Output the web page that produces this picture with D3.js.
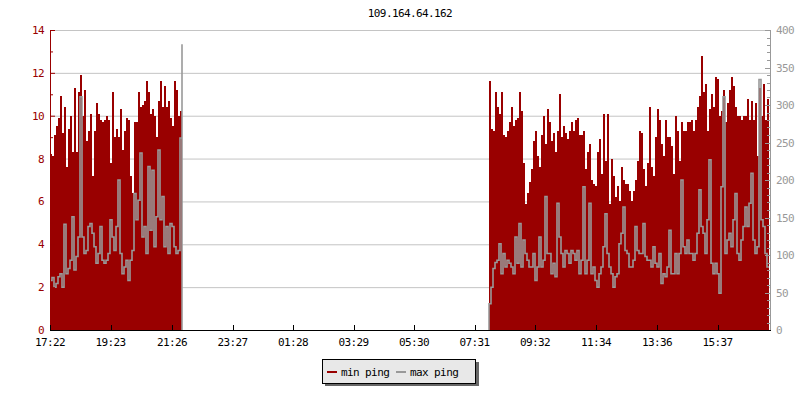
<!DOCTYPE html>
<html>
<head>
<meta charset="utf-8">
<script src="https://cdn.jsdelivr.net/npm/d3@7"></script>
<style>
  html, body { margin: 0; padding: 0; background: #fff; }
  svg { display: block; }
  text { font-family: "DejaVu Sans Mono", monospace; font-size: 11px; letter-spacing: -0.6px; }
</style>
</head>
<body>
<svg id="chart" width="800" height="400"></svg>
<script>
// ---------------- data ----------------
const title = "109.164.64.162";
const axisStart = "17:22";            // left edge of the time axis (24 h span)
const stepMinutes = 4;                // sample interval
const xTickLabels = ["17:22","19:23","21:26","23:27","01:28","03:29","05:30","07:31","09:32","11:34","13:36","15:37"];
const leftTicks = [0, 2, 4, 6, 8, 10, 12, 14];
const rightTicks = [0, 50, 100, 150, 200, 250, 300, 350, 400];
const seriesNames = ["min ping", "max ping"];

// segment 1 (evening)
const seg1Start = "17:22";
const seg1Min = [8.2, 8.1, 9.1, 9.5, 9.9, 10.9, 9.2, 10.4, 7.6, 9.4,
  10.0, 8.3, 11.3, 8.3, 11.1, 11.9, 10.0, 11.2, 8.8, 9.3,
  10.1, 7.2, 9.3, 10.6, 10.1, 9.8, 9.7, 9.8, 10.0, 9.8,
  7.8, 11.1, 9.0, 9.4, 9.0, 10.3, 8.4, 9.3, 9.9, 9.8,
  7.2, 6.4, 9.7, 9.7, 11.1, 10.4, 10.5, 10.7, 11.6, 11.1,
  10.1, 10.3, 10.0, 9.0, 10.7, 11.6, 10.4, 11.4, 10.4, 10.7,
  9.9, 9.5, 11.6, 11.2, 10.0, 10.2];
const seg1Max = [66, 70, 57, 62, 71, 75, 57, 141, 75, 82,
  93, 151, 80, 98, 124, 311, 124, 102, 106, 138,
  142, 129, 111, 89, 102, 138, 93, 89, 93, 102,
  147, 124, 106, 138, 200, 102, 75, 84, 93, 66,
  93, 106, 182, 147, 173, 236, 124, 138, 102, 218,
  133, 213, 111, 151, 240, 147, 178, 111, 138, 102,
  142, 138, 111, 102, 106, 256, 381];

// segment 2 (morning / afternoon)
const seg2Start = "08:00";
const seg2Min = [11.6, 9.4, 9.3, 11.1, 10.4, 10.1, 11.1, 9.1, 9.0, 9.3,
  9.7, 10.4, 9.5, 9.8, 9.9, 11.1, 10.2, 7.8, 5.9, 6.4,
  6.9, 7.5, 8.8, 9.3, 8.1, 7.6, 9.1, 10.0, 8.7, 10.3,
  9.7, 8.8, 9.2, 8.3, 9.3, 11.0, 9.0, 9.5, 9.2, 8.9,
  9.3, 9.7, 9.3, 9.8, 9.9, 9.1, 9.1, 9.3, 7.5, 8.3,
  8.7, 7.0, 6.8, 6.7, 8.3, 8.9, 7.3, 10.1, 7.9, 10.1,
  5.9, 8.0, 7.2, 6.2, 6.7, 6.0, 7.6, 7.0, 6.8, 6.8,
  6.5, 6.0, 6.5, 7.0, 7.9, 9.3, 9.2, 7.5, 6.7, 7.8,
  10.4, 7.6, 7.2, 9.0, 10.3, 9.8, 8.7, 8.1, 9.8, 9.0,
  9.0, 8.6, 7.3, 10.0, 9.3, 7.9, 9.7, 9.3, 9.3, 9.7,
  9.7, 9.8, 9.3, 9.8, 10.4, 10.9, 12.8, 11.1, 11.5, 9.3,
  10.3, 11.0, 10.4, 11.8, 11.7, 10.0, 10.2, 11.2, 9.7, 10.6,
  11.2, 11.8, 11.4, 10.4, 10.0, 10.0, 9.8, 10.0, 10.0, 10.8,
  9.8, 10.7, 9.8, 10.6, 8.1, 11.3, 10.0, 11.5, 9.8, 10.8];
const seg2Max = [35, 57, 82, 90, 93, 115, 75, 102, 84, 93,
  89, 84, 75, 124, 89, 142, 84, 120, 102, 93,
  84, 84, 102, 66, 84, 124, 84, 93, 178, 102,
  102, 75, 89, 71, 169, 124, 102, 84, 106, 102,
  89, 106, 102, 93, 106, 75, 93, 191, 75, 93,
  169, 75, 84, 66, 57, 75, 84, 111, 155, 102,
  84, 75, 57, 71, 75, 115, 129, 164, 106, 102,
  84, 84, 93, 138, 106, 102, 102, 142, 98, 93,
  93, 84, 111, 89, 84, 102, 62, 75, 71, 84,
  133, 75, 75, 102, 75, 102, 200, 111, 102, 120,
  102, 102, 93, 102, 129, 187, 138, 129, 102, 147,
  227, 89, 75, 89, 75, 49, 191, 311, 102, 120,
  129, 111, 147, 182, 102, 93, 120, 138, 164, 138,
  169, 209, 120, 102, 111, 334, 147, 138, 102, 84];

// ---------------- helpers ----------------
const toMin = s => { const [h, m] = s.split(":").map(Number); return h * 60 + m; };
const offset = s => ((toMin(s) - toMin(axisStart)) % 1440 + 1440) % 1440;

// ---------------- layout ----------------
const L = 50, R = 770, T = 30, B = 330;
const RED = "#990000", GREY = "#999999";
const svg = d3.select("#chart");

const x = d3.scaleLinear().domain([0, 1440]).range([L, R]);
const yL = d3.scaleLinear().domain([0, 14]).range([B, T]);
const yR = d3.scaleLinear().domain([0, 400]).range([B, T]);

// grid
svg.append("g").selectAll("line").data(leftTicks.filter(d => d > 0)).join("line")
  .attr("x1", L).attr("x2", R)
  .attr("y1", d => yL(d) + 0.5).attr("y2", d => yL(d) + 0.5)
  .attr("stroke", "#c4c4c4").attr("stroke-width", 1);

// series
function drawSegment(startStr, mins, maxs, dropStart, dropEnd) {
  const t0 = offset(startStr);
  const n = mins.length;
  const tEnd = t0 + n * stepMinutes;
  const minPts = mins.map((v, i) => [t0 + i * stepMinutes, v]);
  minPts.push([tEnd, mins[n - 1]]);
  const area = d3.area().curve(d3.curveStepAfter)
    .x(d => x(d[0])).y0(yL(0)).y1(d => yL(d[1]));
  svg.append("path").datum(minPts).attr("d", area)
    .attr("fill", RED).attr("shape-rendering", "crispEdges");

  let maxPts = maxs.map((v, i) => [t0 + i * stepMinutes, v]);
  if (maxs.length === n) maxPts.push([tEnd, maxs[n - 1]]);
  if (dropStart) maxPts.unshift([t0, 0]);
  if (dropEnd) maxPts.push([tEnd, 0]);
  const line = d3.line().curve(d3.curveStepAfter)
    .x(d => x(d[0])).y(d => yR(d[1]));
  svg.append("path").datum(maxPts).attr("d", line)
    .attr("fill", "none").attr("stroke", GREY).attr("stroke-width", 1.6)
    .attr("stroke-linejoin", "miter");
}
drawSegment(seg1Start, seg1Min, seg1Max, false, true);
drawSegment(seg2Start, seg2Min, seg2Max, true, false);

// left axis (red)
const gl = svg.append("g");
gl.append("line").attr("x1", L + 0.5).attr("x2", L + 0.5).attr("y1", T).attr("y2", B)
  .attr("stroke", RED);
gl.selectAll("line.minor").data(d3.range(0, 15)).join("line").attr("class", "minor")
  .attr("x1", L).attr("x2", d => L + (d % 2 === 0 ? 5 : 3))
  .attr("y1", d => yL(d) + 0.5).attr("y2", d => yL(d) + 0.5)
  .attr("stroke", RED);
gl.selectAll("text").data(leftTicks).join("text")
  .attr("x", 44).attr("y", d => yL(d) + 4)
  .attr("text-anchor", "end").attr("fill", RED).text(d => d);

// right axis (grey)
const gr = svg.append("g");
gr.append("line").attr("x1", R + 0.5).attr("x2", R + 0.5).attr("y1", T).attr("y2", B)
  .attr("stroke", GREY);
gr.selectAll("line.minor").data(d3.range(0, 401, 10)).join("line").attr("class", "minor")
  .attr("x1", d => R - (d % 50 === 0 ? 5 : 3)).attr("x2", R)
  .attr("y1", d => Math.round(yR(d)) + 0.5).attr("y2", d => Math.round(yR(d)) + 0.5)
  .attr("stroke", GREY);
gr.selectAll("text").data(rightTicks).join("text")
  .attr("x", 776).attr("y", d => yR(d) + 4)
  .attr("text-anchor", "start").attr("fill", GREY).text(d => d);

// bottom axis
const gb = svg.append("g");
gb.append("line").attr("x1", L).attr("x2", R + 1).attr("y1", B + 0.5).attr("y2", B + 0.5)
  .attr("stroke", "#000");
gb.selectAll("line.tick").data(xTickLabels).join("line").attr("class", "tick")
  .attr("x1", d => Math.round(x(offset(d))) + 0.5).attr("x2", d => Math.round(x(offset(d))) + 0.5)
  .attr("y1", B - 5).attr("y2", B).attr("stroke", "#000");
gb.selectAll("text").data(xTickLabels).join("text")
  .attr("x", d => x(offset(d))).attr("y", 346)
  .attr("text-anchor", "middle").attr("fill", "#000").text(d => d);

// title
svg.append("text").attr("x", (L + R) / 2).attr("y", 17)
  .attr("text-anchor", "middle").attr("fill", "#000").text(title);

// legend
const lg = svg.append("g");
lg.append("rect").attr("x", 325).attr("y", 362).attr("width", 154).attr("height", 24).attr("fill", "#666");
lg.append("rect").attr("x", 322.5).attr("y", 359.5).attr("width", 153).attr("height", 24)
  .attr("fill", "#e8e8e8").attr("stroke", "#000").attr("stroke-width", 1);
const items = [{ name: seriesNames[0], color: RED, x: 327 }, { name: seriesNames[1], color: GREY, x: 396 }];
items.forEach(it => {
  lg.append("line").attr("x1", it.x).attr("x2", it.x + 10).attr("y1", 372).attr("y2", 372)
    .attr("stroke", it.color).attr("stroke-width", 2);
  lg.append("text").attr("x", it.x + 14).attr("y", 376).attr("fill", "#000").text(it.name);
});
</script>
</body>
</html>
